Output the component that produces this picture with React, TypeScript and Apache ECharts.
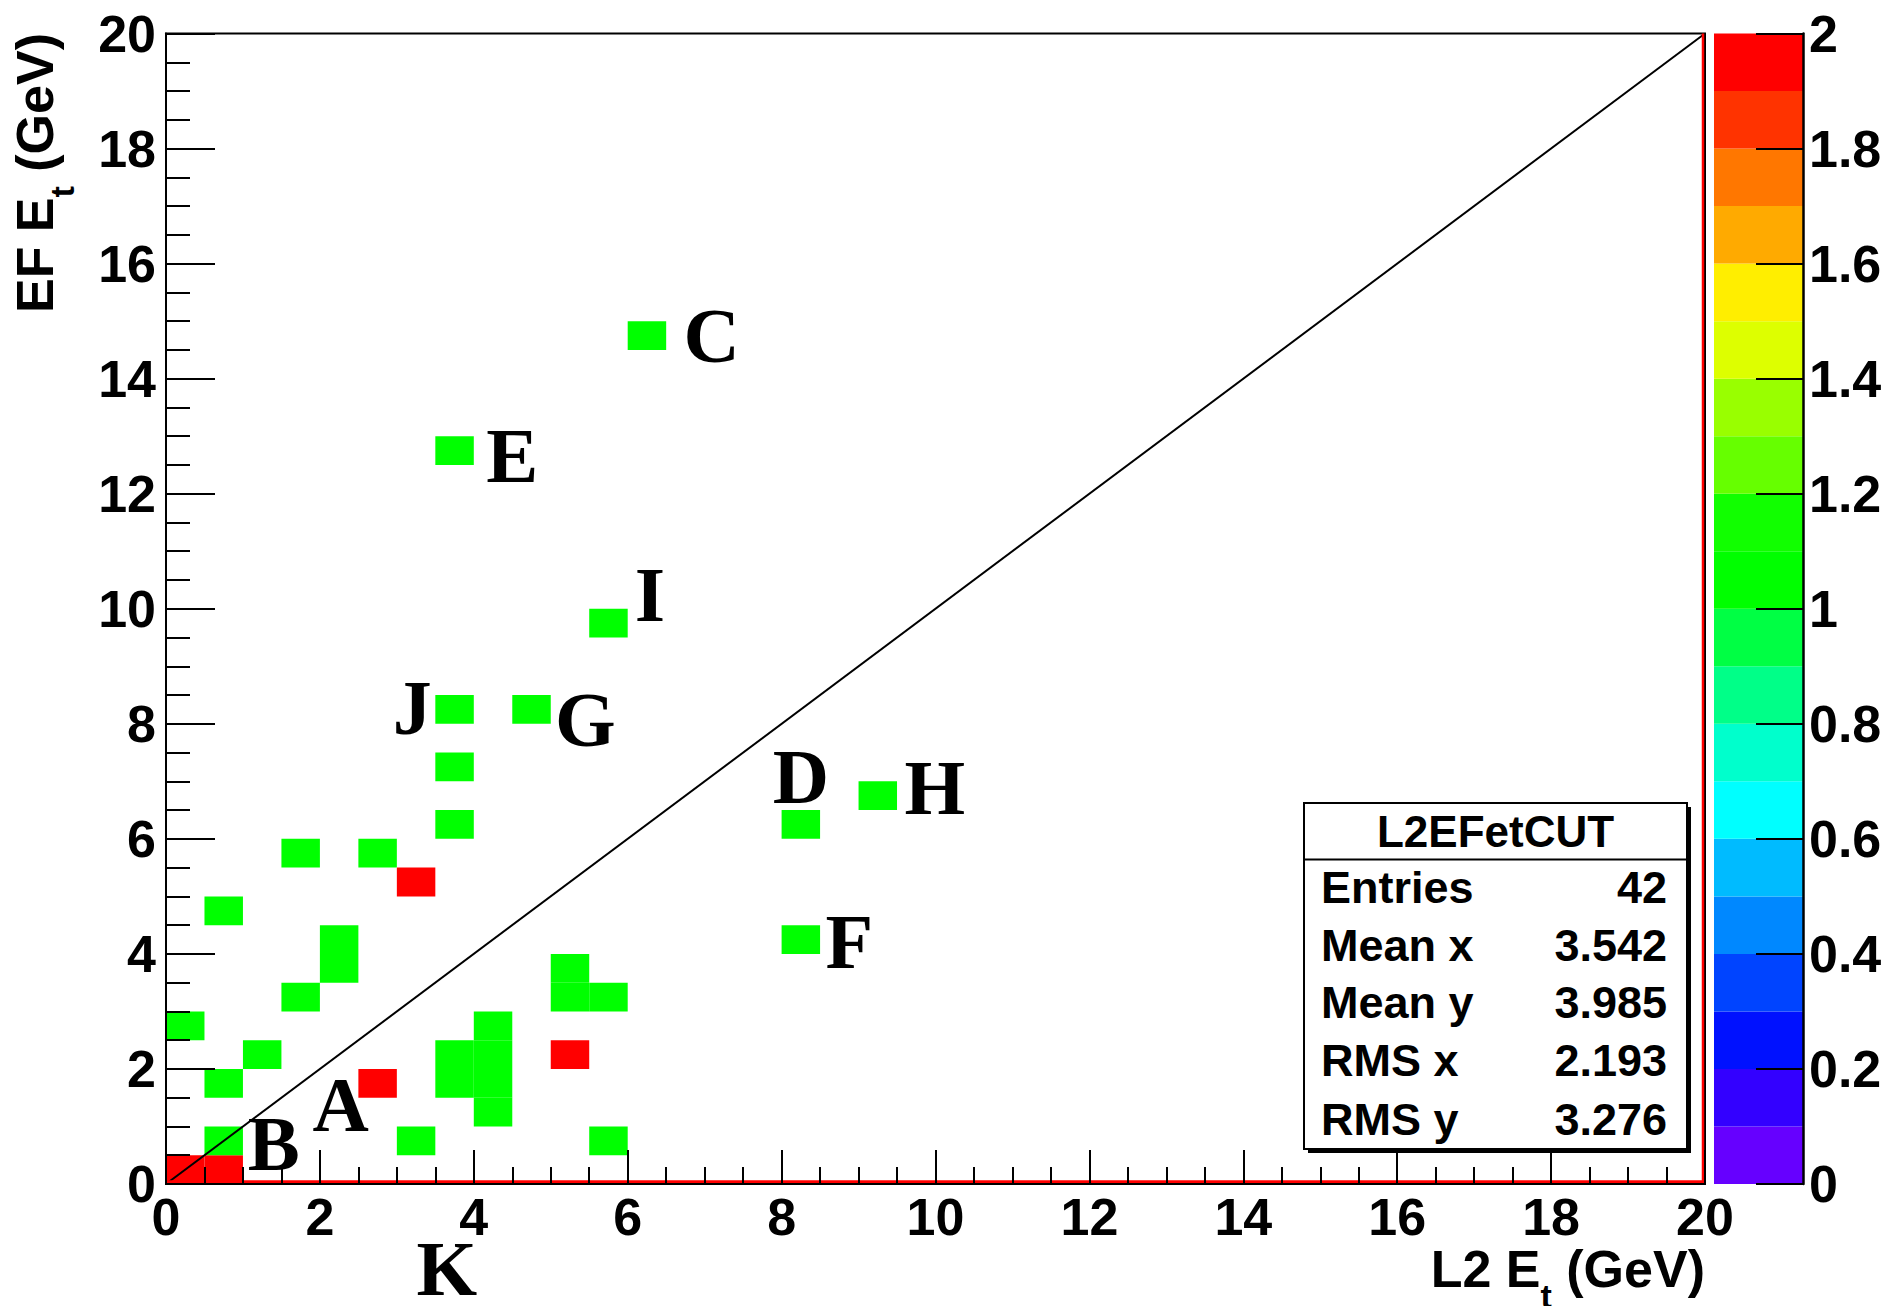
import { useEffect, useRef } from "react";
import * as echarts from "echarts";

// ---- axis ranges ----
const X_MIN = 0;
const X_MAX = 20;
const Y_MIN = 0;
const Y_MAX = 20;
const AXIS_STEP = 2;
const BIN = 0.5;

// ---- histogram cells (bin centres, GeV) and their contents ----
const cellX = [
  0.25, 0.75, 3.25, 2.75, 5.25,
  0.75, 1.75, 2.75, 0.75, 2.25, 2.25, 1.75, 5.25, 5.25, 5.75, 0.25, 1.25, 0.75,
  4.25, 3.75, 4.25, 3.75, 4.25, 4.25, 3.25, 5.75, 5.75, 3.75, 4.75, 3.75, 3.75,
  6.25, 3.75, 8.25, 9.25, 8.25,
];
const cellY = [
  0.25, 0.25, 5.25, 1.75, 2.25,
  0.75, 5.75, 5.75, 4.75, 4.25, 3.75, 3.25, 3.75, 3.25, 3.25, 2.75, 2.25, 1.75,
  2.75, 2.25, 2.25, 1.75, 1.75, 1.25, 0.75, 0.75, 9.75, 8.25, 8.25, 7.25, 6.25,
  14.75, 12.75, 6.25, 6.75, 4.25,
];
const cellCount = [
  2, 2, 2, 2, 2,
  1, 1, 1, 1, 1, 1, 1, 1, 1, 1, 1, 1, 1,
  1, 1, 1, 1, 1, 1, 1, 1, 1, 1, 1, 1, 1,
  1, 1, 1, 1, 1,
];

// ---- colour palette (z from 0 to 2, 20 bands) ----
const Z_MIN = 0;
const Z_MAX = 2;
const Z_STEP = 0.2;
const paletteColors = [
  "#6600ff", "#3300ff", "#0011ff", "#0044ff", "#0088ff",
  "#00bbff", "#00ffff", "#00ffcc", "#00ff88", "#00ff44",
  "#00ff00", "#11ff00", "#66ff00", "#99ff00", "#ddff00",
  "#ffee00", "#ffaa00", "#ff7700", "#ff3300", "#ff0000",
];

// ---- annotation letters (data coordinates) ----
const markNames = ["A", "B", "C", "D", "E", "F", "G", "H", "I", "J", "K"];
const markX = [2.27, 1.4, 7.09, 8.25, 4.5, 8.88, 5.45, 9.99, 6.29, 3.2, 3.65];
const markY = [1.38, 0.71, 14.75, 7.09, 12.66, 4.22, 8.07, 6.9, 10.24, 8.28, -1.47];

// ---- stats box ----
const statTitle = "L2EFetCUT";
const statLabels = ["Entries", "Mean x", "Mean y", "RMS x", "RMS y"];
const statValues = ["42", "3.542", "3.985", "2.193", "3.276"];

// ---- axis titles ----
const xTitleMain = "L2 E";
const xTitleSub = "t";
const xTitleTail = " (GeV)";
const yTitleMain = "EF E";
const yTitleSub = "t";
const yTitleTail = " (GeV)";

const SANS = "'Liberation Sans', Arial, Helvetica, sans-serif";
const SERIF = "'Liberation Serif', 'Times New Roman', serif";

// frame line inset (axis units), red histogram frame just inside the black box
const INSET_X = 0.026;
const INSET_Y = 0.04;

function colorFor(v: number): string {
  const n = paletteColors.length;
  let idx = Math.floor(((v - Z_MIN) / (Z_MAX - Z_MIN)) * n + 1e-9);
  if (idx < 0) idx = 0;
  if (idx > n - 1) idx = n - 1;
  return paletteColors[idx];
}

export default function App() {
  const ref = useRef<HTMLDivElement>(null);

  useEffect(() => {
    if (!ref.current) return;
    const chart = echarts.init(ref.current, undefined, { renderer: "svg" });

    const gridL = 166;
    const gridT = 33.5;
    const gridW = 1539;
    const gridH = 1150.5;

    const richTitle = (fs: number, subFs: number, pad: number) => ({
      m: {
        fontSize: fs,
        lineHeight: fs,
        fontWeight: "bold",
        fontFamily: SANS,
        fill: "#000",
        verticalAlign: "top",
      },
      s: {
        fontSize: subFs,
        lineHeight: 20,
        fontWeight: "bold",
        fontFamily: SANS,
        fill: "#000",
        verticalAlign: "top",
        padding: [pad, 0, 0, 0],
      },
    });

    const statsX = 1304;
    const statsY = 803;
    const statsW = 383;
    const statsH = 346;
    const rowCenters = [887, 945, 1002, 1060.5, 1119];
    const STAT_FS = 45;

    const graphic: any[] = [
      // stats box shadow + box
      {
        type: "rect",
        shape: { x: statsX + 4, y: statsY + 4, width: statsW, height: statsH },
        style: { fill: "#000" },
        z: 10,
      },
      {
        type: "rect",
        shape: { x: statsX, y: statsY, width: statsW, height: statsH },
        style: { fill: "#fff", stroke: "#000", lineWidth: 2 },
        z: 11,
      },
      {
        type: "line",
        shape: { x1: statsX, y1: 859.5, x2: statsX + statsW, y2: 859.5 },
        style: { stroke: "#000", lineWidth: 2 },
        z: 12,
      },
      {
        type: "text",
        x: statsX + statsW / 2,
        y: 831,
        z: 12,
        style: {
          text: statTitle,
          fontSize: 44,
          fontWeight: "bold",
          fontFamily: SANS,
          fill: "#000",
          align: "center",
          verticalAlign: "middle",
        },
      },
      ...statLabels.map((lab, i) => ({
        type: "text",
        x: 1321,
        y: rowCenters[i],
        z: 12,
        style: {
          text: lab,
          fontSize: STAT_FS,
          fontWeight: "bold",
          fontFamily: SANS,
          fill: "#000",
          align: "left",
          verticalAlign: "middle",
        },
      })),
      ...statValues.map((val, i) => ({
        type: "text",
        x: 1667,
        y: rowCenters[i],
        z: 12,
        style: {
          text: val,
          fontSize: STAT_FS,
          fontWeight: "bold",
          fontFamily: SANS,
          fill: "#000",
          align: "right",
          verticalAlign: "middle",
        },
      })),
      // x axis title
      {
        type: "text",
        x: 1705,
        y: 1243,
        z: 12,
        style: {
          text: `{m|${xTitleMain}}{s|${xTitleSub}}{m|${xTitleTail}}`,
          align: "right",
          verticalAlign: "top",
          rich: richTitle(52, 34, 36),
        },
      },
      // y axis title (rotated)
      {
        type: "text",
        x: 9,
        y: 33,
        rotation: Math.PI / 2,
        z: 12,
        style: {
          text: `{m|${yTitleMain}}{s|${yTitleSub}}{m|${yTitleTail}}`,
          align: "right",
          verticalAlign: "top",
          rich: richTitle(52, 34, 36),
        },
      },
    ];

    const axisLabelStyle = {
      fontSize: 52,
      fontWeight: "bold" as const,
      fontFamily: SANS,
      color: "#000",
    };

    const option: any = {
      animation: false,
      backgroundColor: "#fff",
      grid: [
        {
          left: gridL,
          top: gridT,
          width: gridW,
          height: gridH,
          show: true,
          borderColor: "#000",
          borderWidth: 2,
          backgroundColor: "transparent",
        },
        { left: 1714, top: gridT, width: 89, height: gridH },
      ],
      xAxis: [
        {
          type: "value",
          gridIndex: 0,
          min: X_MIN,
          max: X_MAX,
          interval: AXIS_STEP,
          z: 5,
          axisLine: { show: true, onZero: false, lineStyle: { color: "#000", width: 2 } },
          axisTick: { show: true, inside: true, length: 34, lineStyle: { color: "#000", width: 2 } },
          minorTick: { show: true, splitNumber: 4, length: 17, lineStyle: { color: "#000", width: 2 } },
          axisLabel: { ...axisLabelStyle, margin: 7, showMinLabel: true, showMaxLabel: true },
          splitLine: { show: false },
        },
        {
          type: "value",
          gridIndex: 1,
          min: 0,
          max: 1,
          show: false,
          axisLine: { onZero: false },
        },
      ],
      yAxis: [
        {
          type: "value",
          gridIndex: 0,
          min: Y_MIN,
          max: Y_MAX,
          interval: AXIS_STEP,
          z: 5,
          axisLine: { show: true, onZero: false, lineStyle: { color: "#000", width: 2 } },
          axisTick: { show: true, inside: true, length: 49, lineStyle: { color: "#000", width: 2 } },
          minorTick: { show: true, splitNumber: 4, length: 24, lineStyle: { color: "#000", width: 2 } },
          axisLabel: { ...axisLabelStyle, margin: 10, showMinLabel: true, showMaxLabel: true },
          splitLine: { show: false },
        },
        {
          type: "value",
          gridIndex: 1,
          position: "right",
          min: Z_MIN,
          max: Z_MAX,
          interval: Z_STEP,
          z: 5,
          axisLine: { show: true, onZero: false, lineStyle: { color: "#000", width: 2.5 } },
          axisTick: { show: true, inside: true, length: 47, lineStyle: { color: "#000", width: 2 } },
          axisLabel: { ...axisLabelStyle, margin: 6, showMinLabel: true, showMaxLabel: true },
          splitLine: { show: false },
        },
      ],
      series: [
        {
          type: "custom",
          name: "cells",
          xAxisIndex: 0,
          yAxisIndex: 0,
          z: 2,
          encode: { x: 0, y: 1 },
          data: cellX.map((x, i) => [x, cellY[i], cellCount[i]]),
          renderItem: (_params: any, api: any) => {
            const x = api.value(0);
            const y = api.value(1);
            const v = api.value(2);
            const p0 = api.coord([x - BIN / 2, y + BIN / 2]);
            const p1 = api.coord([x + BIN / 2, y - BIN / 2]);
            return {
              type: "rect",
              shape: { x: p0[0], y: p0[1], width: p1[0] - p0[0], height: p1[1] - p0[1] },
              style: { fill: colorFor(v), stroke: null },
            };
          },
        },
        {
          type: "line",
          name: "diagonal",
          xAxisIndex: 0,
          yAxisIndex: 0,
          z: 3,
          symbol: "none",
          silent: true,
          data: [
            [X_MIN, Y_MIN],
            [X_MAX, Y_MAX],
          ],
          lineStyle: { color: "#000", width: 2 },
        },
        {
          type: "line",
          name: "frameBottom",
          xAxisIndex: 0,
          yAxisIndex: 0,
          z: 3,
          symbol: "none",
          silent: true,
          data: [
            [X_MIN, Y_MIN + INSET_Y],
            [X_MAX, Y_MIN + INSET_Y],
          ],
          lineStyle: { color: "#ff0000", width: 3 },
        },
        {
          type: "line",
          name: "frameRight",
          xAxisIndex: 0,
          yAxisIndex: 0,
          z: 3,
          symbol: "none",
          silent: true,
          data: [
            [X_MAX - INSET_X, Y_MIN],
            [X_MAX - INSET_X, Y_MAX],
          ],
          lineStyle: { color: "#ff0000", width: 2.5 },
        },
        {
          type: "custom",
          name: "palette",
          xAxisIndex: 1,
          yAxisIndex: 1,
          z: 2,
          data: paletteColors.map((_c, i) => [
            Z_MIN + (i * (Z_MAX - Z_MIN)) / paletteColors.length,
            Z_MIN + ((i + 1) * (Z_MAX - Z_MIN)) / paletteColors.length,
            i,
          ]),
          renderItem: (_params: any, api: any) => {
            const lo = api.value(0);
            const hi = api.value(1);
            const idx = api.value(2);
            const p0 = api.coord([0, hi]);
            const p1 = api.coord([1, lo]);
            return {
              type: "rect",
              shape: { x: p0[0], y: p0[1], width: p1[0] - p0[0], height: p1[1] - p0[1] },
              style: { fill: paletteColors[idx], stroke: null },
            };
          },
        },
        {
          type: "scatter",
          name: "marks",
          xAxisIndex: 0,
          yAxisIndex: 0,
          z: 4,
          clip: false,
          silent: true,
          symbolSize: 1,
          itemStyle: { color: "rgba(0,0,0,0)" },
          data: markNames.map((n, i) => ({ name: n, value: [markX[i], markY[i]] })),
          label: {
            show: true,
            position: "inside",
            formatter: "{b}",
            fontFamily: SERIF,
            fontWeight: "bold",
            fontSize: 78,
            lineHeight: 56,
            color: "#000",
            opacity: 1,
            textBorderWidth: 0,
          },
        },
      ],
      graphic,
    };

    chart.setOption(option);
    return () => chart.dispose();
  }, []);

  return (
    <div
      ref={ref}
      style={{ position: "absolute", left: 0, top: 0, width: 1889, height: 1306, background: "#fff" }}
    />
  );
}
